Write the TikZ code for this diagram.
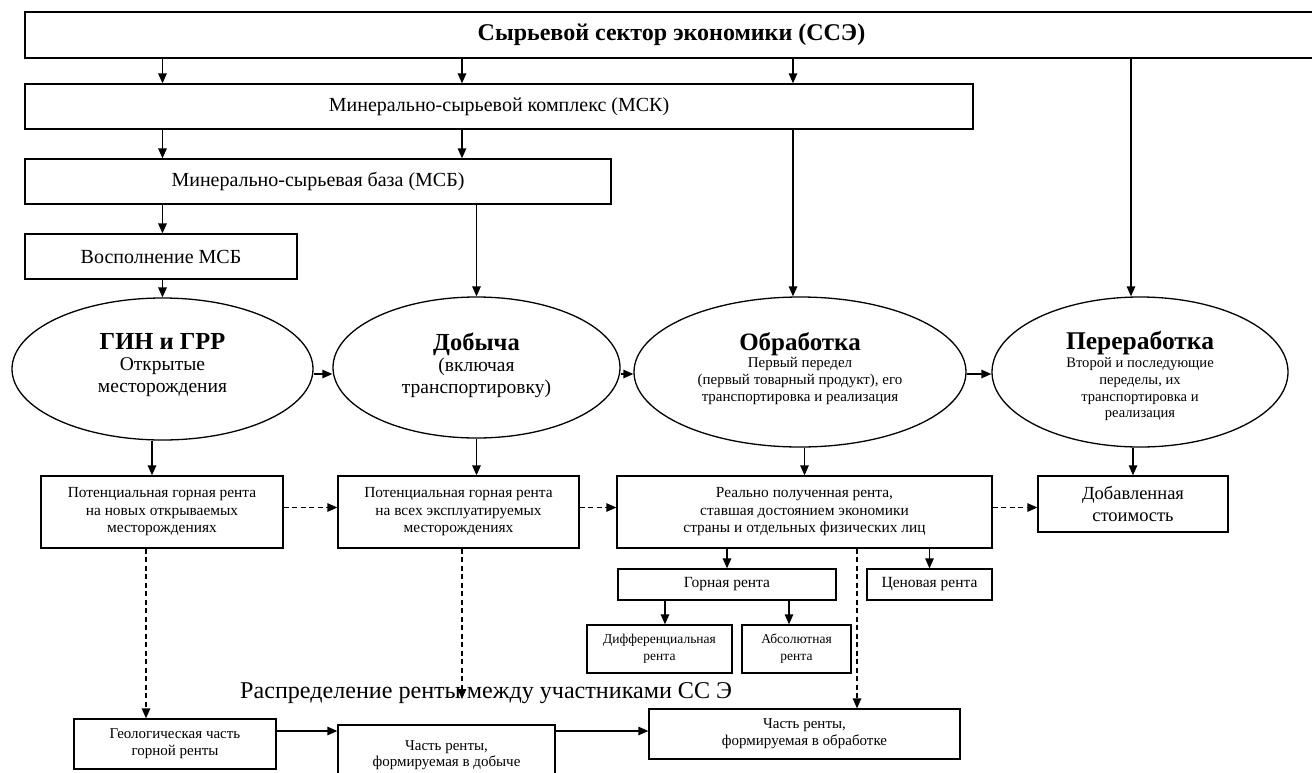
\documentclass[tikz,border=0pt]{standalone}
\usepackage{fontspec}
\setmainfont{Liberation Serif}
\usetikzlibrary{shapes.geometric,arrows.meta}
\begin{document}
\begin{tikzpicture}[x=1pt,y=-1pt,
  box/.style={draw, rectangle, line width=1.3pt, align=center, inner sep=0pt},
  ell/.style={draw, ellipse, line width=1.3pt, inner sep=0pt},
  etxt/.style={align=center, inner sep=0pt},
  arr/.style={-{Triangle[length=10pt,width=8.5pt]}, line width=1.3pt},
  darr/.style={arr, dash pattern=on 5pt off 3.5pt},
  fbig/.style={font=\fontsize{20}{24}\selectfont},
  frent/.style={font=\fontsize{15.4}{17.5}\selectfont},
  fsm/.style={font=\fontsize{13.5}{17}\selectfont}]
\useasboundingbox (0,0) rectangle (1312,772);

% columns / rows
\coordinate (colB) at (462,0);
\coordinate (colC) at (793,0);
\coordinate (colD) at (1131,0);
\coordinate (k1) at (152,0);
\coordinate (kd) at (665,0);
\coordinate (ka) at (789,0);
\coordinate (dk1) at (146,0);
\coordinate (dk3) at (857,0);
\coordinate (erow) at (0,374);
\coordinate (drow) at (0,507.5);
\coordinate (brow) at (0,731);
\coordinate (dk2end) at (462,699);

% top boxes
\node[box, line width=2.3pt, minimum width=1293pt, minimum height=46pt,
      font=\fontsize{24}{28}\selectfont\bfseries] (sse) at (671.5,35) {Сырьевой сектор экономики (ССЭ)};
\node[box, fbig, minimum width=948pt, minimum height=45pt] (msk) at (499,106.5) {Минерально-сырьевой комплекс (МСК)};
\node[box, fbig, minimum width=586pt, minimum height=45pt] (msb) at (318,181.5) {Минерально-сырьевая база (МСБ)};
\node[box, fbig, minimum width=272pt, minimum height=45pt] (vos) at (161,256.5) {Восполнение МСБ};

% ellipses
\node[ell, minimum width=301pt, minimum height=142pt] (e1) at (162.5,369) {};
\node[ell, minimum width=287pt, minimum height=141pt] (e2) at (476.5,367.5) {};
\node[ell, minimum width=332pt, minimum height=150pt] (e3) at (800,372) {};
\node[ell, minimum width=296pt, minimum height=150pt] (e4) at (1140,372) {};

\node[etxt, font=\fontsize{19.5}{21.5}\selectfont] (t1) at (162.5,365)
  {{\fontsize{24.5}{24}\selectfont\bfseries ГИН и ГРР}\\Открытые\\месторождения};
\node[etxt, font=\fontsize{19.5}{21.5}\selectfont] (t2) at (476.5,365)
  {{\fontsize{24.5}{24}\selectfont\bfseries Добыча}\\(включая\\транспортировку)};
\node[etxt, font=\fontsize{15}{17}\selectfont] (t3) at (800,369)
  {{\fontsize{25}{24}\selectfont\bfseries Обработка}\\Первый передел\\(первый товарный продукт), его\\транспортировка и реализация};
\node[etxt, font=\fontsize{14.6}{16.7}\selectfont] (t4) at (1140,376)
  {{\fontsize{25.5}{24}\selectfont\bfseries Переработка}\\[2pt]Второй и последующие\\переделы, их\\транспортировка и\\реализация};

% rent boxes
\node[box, frent, minimum width=242pt, minimum height=72pt] (r1) at (162,512)
  {Потенциальная горная рента\\на новых открываемых\\месторождениях};
\node[box, frent, minimum width=241pt, minimum height=72pt] (r2) at (458.5,512)
  {Потенциальная горная рента\\на всех эксплуатируемых\\месторождениях};
\node[box, frent, minimum width=375pt, minimum height=72pt] (r3) at (804.5,512)
  {Реально полученная рента,\\ставшая достоянием экономики\\страны и отдельных физических лиц};
\node[box, font=\fontsize{18.5}{22}\selectfont, minimum width=190pt, minimum height=56pt] (dob) at (1133,504)
  {Добавленная\\стоимость};

\node[box, font=\fontsize{15.5}{18}\selectfont, minimum width=218pt, minimum height=31pt] (gor) at (727,584.5) {Горная рента};
\node[box, font=\fontsize{15.5}{18}\selectfont, minimum width=125pt, minimum height=31pt] (cen) at (929.5,584.5) {Ценовая рента};
\node[box, fsm, minimum width=145pt, minimum height=48pt] (diff) at (659.5,649) {Дифференциальная\\рента};
\node[box, fsm, minimum width=109pt, minimum height=48pt] (abs) at (796.5,649) {Абсолютная\\рента};

\node[box, font=\fontsize{15}{17}\selectfont, minimum width=311pt, minimum height=50pt] (cho) at (804.5,734)
  {Часть ренты,\\формируемая в обработке};
\node[box, font=\fontsize{15}{17}\selectfont, minimum width=202pt, minimum height=50pt] (geo) at (175,744)
  {Геологическая часть\\горной ренты};
\node[box, font=\fontsize{15}{16}\selectfont, minimum width=217pt, minimum height=61pt] (chd) at (446.5,755.5)
  {Часть ренты,\\формируемая в добыче};

\node[anchor=west, inner sep=0pt, font=\fontsize{24.1}{28}\selectfont] (dist) at (240,693)
  {Распределение ренты между участниками СС Э};

% arrows top
\draw[arr] (sse.south -| e1) -- (msk.north -| e1);
\draw[arr] (sse.south -| colB) -- (msk.north -| colB);
\draw[arr] (sse.south -| colC) -- (msk.north -| colC);
\draw[arr] (sse.south -| colD) -- (e4.north -| colD);
\draw[arr] (msk.south -| e1) -- (msb.north -| e1);
\draw[arr] (msk.south -| colB) -- (msb.north -| colB);
\draw[arr] (msk.south -| colC) -- (e3.north -| colC);
\draw[arr] (msb.south -| e1) -- (vos.north -| e1);
\draw[arr] (msb.south -| e2) -- (e2.north);
\draw[arr] (vos.south -| e1) -- (e1.north);

% between ellipses
\draw[arr] (e1.east |- erow) -- (e2.west |- erow);
\draw[arr] (e2.east |- erow) -- (e3.west |- erow);
\draw[arr] (e3.east |- erow) -- (e4.west |- erow);

% down to rents
\draw[arr] (e1.south -| k1) -- (r1.north -| k1);
\draw[arr] (e2.south) -- (r2.north -| e2);
\draw[arr] (e3.south -| r3) -- (r3.north);
\draw[arr] (e4.south -| dob) -- (dob.north);

\draw[darr] (r1.east |- drow) -- (r2.west |- drow);
\draw[darr] (r2.east |- drow) -- (r3.west |- drow);
\draw[darr] (r3.east |- drow) -- (dob.west |- drow);

\draw[arr] (r3.south -| gor) -- (gor.north);
\draw[arr] (r3.south -| cen) -- (cen.north);
\draw[arr] (gor.south -| kd) -- (diff.north -| kd);
\draw[arr] (gor.south -| ka) -- (abs.north -| ka);

\draw[darr] (r1.south -| dk1) -- (geo.north -| dk1);
\draw[darr] (r2.south -| colB) -- (dk2end);
\draw[darr] (r3.south -| dk3) -- (cho.north -| dk3);

\draw[arr] (geo.east |- brow) -- (chd.west |- brow);
\draw[arr] (chd.east |- brow) -- (cho.west |- brow);
\end{tikzpicture}
\end{document}
